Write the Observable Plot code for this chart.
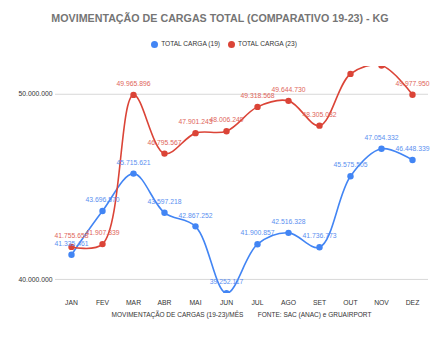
<!DOCTYPE html>
<html><head><meta charset="utf-8">
<script src="https://cdn.jsdelivr.net/npm/d3@7"></script>
<script src="https://cdn.jsdelivr.net/npm/@observablehq/plot@0.6"></script>
<style>
body{margin:0;background:#fff;font-family:"Liberation Sans",Arial,sans-serif;}
#wrap{position:relative;width:448px;height:339px;overflow:hidden;}
#title{position:absolute;left:0;width:440px;top:12px;text-align:center;font-weight:bold;font-size:10.7px;color:#757575;}
#legend{position:absolute;left:0;width:448px;top:40px;text-align:center;font-size:6.6px;color:#333;}
#legend span.dot{display:inline-block;width:7px;height:7px;border-radius:50%;vertical-align:-1.5px;margin-right:3px;}
#legend span.item{margin:0 4px;}
#caption{position:absolute;left:0;width:483px;top:311px;text-align:center;font-size:6.5px;color:#333;white-space:pre;}
</style></head>
<body><div id="wrap">
<div id="title">MOVIMENTAÇÃO DE CARGAS TOTAL (COMPARATIVO 19-23) - KG</div>
<div id="legend"><span class="item"><span class="dot" style="background:#4285F4"></span>TOTAL CARGA (19)</span><span class="item"><span class="dot" style="background:#DB4437"></span>TOTAL CARGA (23)</span></div>
<div id="chart"></div>
<div id="caption">MOVIMENTAÇÃO DE CARGAS (19-23)/MÊS        FONTE: SAC (ANAC) e GRUAIRPORT</div>
</div>
<script>
const months = ["JAN","FEV","MAR","ABR","MAI","JUN","JUL","AGO","SET","OUT","NOV","DEZ"];
const carga19 = [41335461,43696570,45715621,43597218,42867252,39252117,41900857,42516328,41736773,45575505,47054332,46448339];
const carga23 = [41755658,41907339,49965896,46795567,47901243,48006249,49318568,49644730,48305082,51100000,51550000,49977950];
const seriesNames = ["TOTAL CARGA (19)","TOTAL CARGA (23)"];
const yTicks = [40000000,50000000];

const colors = ["#4285F4","#DB4437"];
const labelColors = ["#5b8ff0","#e0655a"];
const data = [];
months.forEach((m,i)=>{
  data.push({month:m, value:carga19[i], series:seriesNames[0]});
  data.push({month:m, value:carga23[i], series:seriesNames[1]});
});
const fmt = v => d3.format(",")(v).replace(/,/g,".");
const yDomain = [39240000, 51500000];
const labeled = data.filter(d => d.value < 51000000);

const plot = Plot.plot({
  width:448, height:339,
  marginTop:66, marginBottom:46, marginLeft:55, marginRight:20,
  style:{fontFamily:"Liberation Sans, Arial, sans-serif", fontSize:"6.8px", color:"#333"},
  x:{type:"point", domain:months, padding:0.5, label:null},
  y:{domain:yDomain, label:null},
  color:{domain:seriesNames, range:colors},
  marks:[
    Plot.gridY(yTicks, {stroke:"#d9d9d9", strokeOpacity:1, strokeWidth:1}),
    Plot.axisY(yTicks, {tickSize:0, tickPadding:3, tickFormat:fmt, fill:"#333", label:null}),
    Plot.axisX({tickSize:0, tickPadding:7, fill:"#333", label:null}),
    Plot.ruleX([0], {x:()=>null, frameAnchor:"left", stroke:"#333", strokeWidth:1, y1:yDomain[0], y2:yDomain[1]}),
    Plot.line(data, {x:"month", y:"value", z:"series", stroke:"series", strokeWidth:1.6, curve:"catmull-rom", clip:true}),
    Plot.dot(data, {x:"month", y:"value", fill:"series", r:3.2, clip:true}),
    Plot.text(labeled, {x:"month", y:"value", text:d=>fmt(d.value), dy:-11,
      fill:d=>labelColors[seriesNames.indexOf(d.series)], fontSize:6.8})
  ]
});
document.getElementById("chart").appendChild(plot);
</script>
</body></html>
